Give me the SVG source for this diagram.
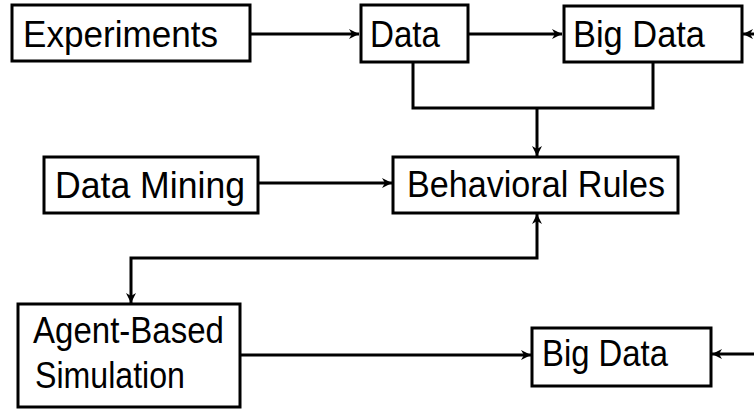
<svg xmlns="http://www.w3.org/2000/svg" width="754" height="412" viewBox="0 0 754 412">
<style>
.box{fill:#fff;stroke:#000;stroke-width:3}
.lbl{font-family:"Liberation Sans",Arial,sans-serif;font-size:37px;fill:#000}
.c{fill:none;stroke:#000;stroke-width:3}
</style>
<defs>
<marker id="ah" viewBox="0 0 10 10" refX="10" refY="5" markerWidth="10" markerHeight="10" markerUnits="userSpaceOnUse" orient="auto-start-reverse">
<path d="M0,0 L10,5 L0,10 L3,5 z" fill="#000"/>
</marker>
</defs>
<rect width="754" height="412" fill="#fff"/>
<g id="connectors">
<path class="c" d="M250,34 H359" marker-end="url(#ah)"/>
<path class="c" d="M468,34 H562" marker-end="url(#ah)"/>
<path class="c" d="M754,34 H743" marker-end="url(#ah)"/>
<path class="c" d="M413,62 V108 H653 V62"/>
<path class="c" d="M537,108 V156" marker-end="url(#ah)"/>
<path class="c" d="M258,183 H392" marker-end="url(#ah)"/>
<path class="c" d="M537,214 V258 H131 V303" marker-start="url(#ah)" marker-end="url(#ah)"/>
<path class="c" d="M241,355 H531" marker-end="url(#ah)"/>
<path class="c" d="M754,354 H712" marker-end="url(#ah)"/>
</g>
<g id="experiments">
<rect class="box" x="12" y="5" width="238" height="56"/>
<text class="lbl" x="23" y="47" textLength="195" lengthAdjust="spacingAndGlyphs">Experiments</text>
</g>
<g id="data">
<rect class="box" x="361" y="5" width="107" height="57"/>
<text class="lbl" x="370" y="47" textLength="70" lengthAdjust="spacingAndGlyphs">Data</text>
</g>
<g id="bigdata-top">
<rect class="box" x="564" y="6" width="178" height="56"/>
<text class="lbl" x="573" y="47" textLength="132" lengthAdjust="spacingAndGlyphs">Big Data</text>
</g>
<g id="datamining">
<rect class="box" x="44" y="157" width="214" height="56"/>
<text class="lbl" x="55" y="198" textLength="190" lengthAdjust="spacingAndGlyphs">Data Mining</text>
</g>
<g id="behavioral">
<rect class="box" x="393" y="157" width="285" height="56"/>
<text class="lbl" x="407" y="197" textLength="258" lengthAdjust="spacingAndGlyphs">Behavioral Rules</text>
</g>
<g id="agent">
<rect class="box" x="18" y="304" width="222" height="103"/>
<text class="lbl" x="33" y="343" textLength="191" lengthAdjust="spacingAndGlyphs">Agent-Based</text>
<text class="lbl" x="35" y="388" textLength="150" lengthAdjust="spacingAndGlyphs">Simulation</text>
</g>
<g id="bigdata-bottom">
<rect class="box" x="532" y="328" width="179" height="58"/>
<text class="lbl" x="542" y="366" textLength="126" lengthAdjust="spacingAndGlyphs">Big Data</text>
</g>
</svg>
